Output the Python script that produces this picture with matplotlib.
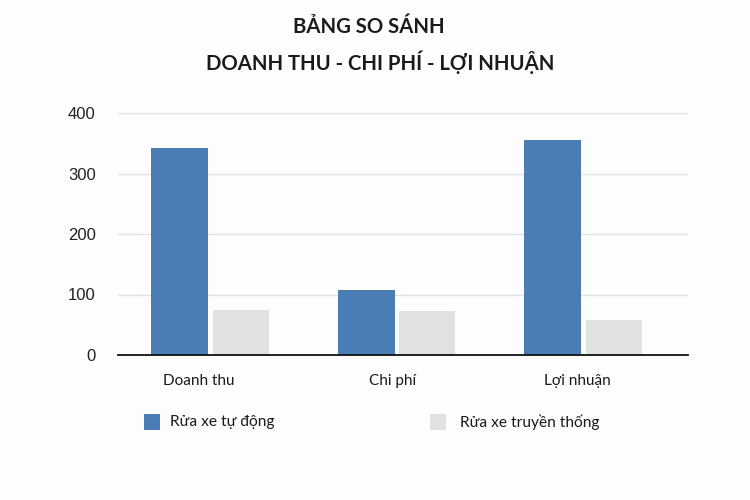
import matplotlib
matplotlib.use("Agg")
import matplotlib.pyplot as plt
from matplotlib.patches import Rectangle
import numpy as np

categories = ["Doanh thu", "Chi phí", "Lợi nhuận"]
series_names = ["Rửa xe tự động", "Rửa xe truyền thống"]
auto_values = [342, 108, 355]
trad_values = [75, 73, 58]
yticks = [0, 100, 200, 300, 400]
title_lines = ["BẢNG SO SÁNH", "DOANH THU - CHI PHÍ - LỢI NHUẬN"]

BLUE = "#4a7db5"
GRAY = "#e1e1e1"
FONT = ["Lato", "DejaVu Sans"]

fig = plt.figure(figsize=(7.5, 5.0), dpi=100)
fig.patch.set_facecolor("#fdfdfd")
ax = fig.add_axes([118/750, 1-355/500, (688-118)/750, (355-113)/500])
ax.set_facecolor("none")

x = np.arange(len(categories))
w = 0.30
off = 0.165
ax.bar(x - off, auto_values, w, color=BLUE, edgecolor="#3f6fa3", linewidth=0.6, zorder=3)
ax.bar(x + off, trad_values, w, color=GRAY, edgecolor="none", zorder=3)

ax.set_xlim(-0.493, 2.563)
ax.set_ylim(0, 400)
ax.set_yticks(yticks)
ax.set_yticklabels([str(v) for v in yticks], fontsize=12, family=["Liberation Sans"], color="#222222")
ax.yaxis.grid(True, color="#e2e2e2", linewidth=1.0, zorder=0)
ax.set_axisbelow(True)
for s in ["top", "right", "left"]:
    ax.spines[s].set_visible(False)
ax.spines["bottom"].set_color("#111111")
ax.spines["bottom"].set_linewidth(1.3)
ax.spines["bottom"].set_zorder(4)
ax.tick_params(axis="y", length=0, pad=16)
ax.tick_params(axis="x", length=0, pad=14)
label_shift = np.array([-0.059, -0.019, -0.032])
ax.set_xticks(x + label_shift)
ax.set_xticklabels(categories, fontsize=11, family=FONT, color="#1a1a1a")

# Title
fig.text(369/750, 1-27/500, title_lines[0], ha="center", va="center", fontsize=14.6,
         fontweight="bold", family=FONT, color="#1a1a1a")
fig.text(380/750, 1-62/500, title_lines[1], ha="center", va="center", fontsize=14.6,
         fontweight="bold", family=FONT, color="#1a1a1a")

# Legend
legend_items = [(144, 170, BLUE, series_names[0]), (430, 460, GRAY, series_names[1])]
for sx, tx, col, name in legend_items:
    fig.patches.append(Rectangle((sx/750, 1-430/500), 16/750, 16/500, transform=fig.transFigure,
                                 facecolor=col, edgecolor="none"))
    fig.text(tx/750, 1-422/500, name, ha="left", va="center", fontsize=11.2, family=FONT, color="#1a1a1a")

fig.savefig("out.png", dpi=100, facecolor=fig.get_facecolor())
